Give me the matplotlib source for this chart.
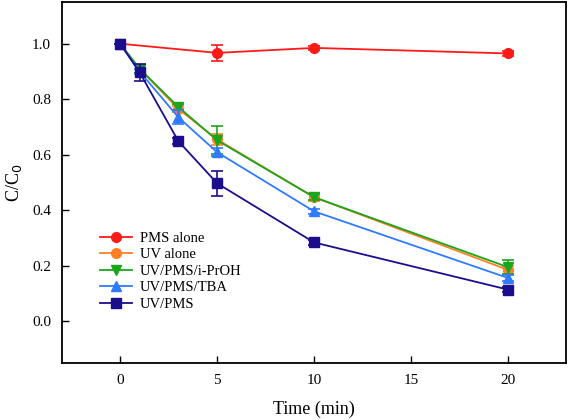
import matplotlib.pyplot as plt
import numpy as np

plt.rcParams['font.family'] = ['Liberation Serif', 'DejaVu Serif']

time = [0, 1, 3, 5, 10, 20]
time_pms = [0, 5, 10, 20]

pms_alone = [1.0, 0.967, 0.985, 0.965]
pms_alone_err = [0.0, 0.028, 0.008, 0.01]

uv_alone = [1.0, 0.91, 0.765, 0.655, 0.447, 0.185]
uv_alone_err = [0.0, 0.015, 0.012, 0.02, 0.015, 0.015]

uv_pms_iproh = [1.0, 0.91, 0.772, 0.652, 0.447, 0.195]
uv_pms_iproh_err = [0.0, 0.015, 0.01, 0.05, 0.01, 0.025]

uv_pms_tba = [1.0, 0.90, 0.735, 0.609, 0.396, 0.156]
uv_pms_tba_err = [0.0, 0.01, 0.025, 0.015, 0.01, 0.01]

uv_pms = [1.0, 0.897, 0.649, 0.497, 0.284, 0.114]
uv_pms_err = [0.0, 0.03, 0.01, 0.045, 0.01, 0.01]

fig = plt.figure(figsize=(5.69, 4.20), dpi=100)
ax = fig.add_axes([0.109, 0.136, 0.886, 0.859])

def plotseries(x, y, err, color, marker, label, ms=7):
    '''plot one series, error bars kept out of the legend'''
    ax.errorbar(x, y, yerr=err, color=color, fmt='none',
                elinewidth=1.2, capsize=4, capthick=1.2)
    ax.plot(x, y, color=color, marker=marker, markersize=ms,
            linewidth=1.3, label=label)

plotseries(time_pms, pms_alone, pms_alone_err, '#ff1a1a', 'o', 'PMS alone')
plotseries(time, uv_alone, uv_alone_err, '#ff7f27', 'o', 'UV alone')
plotseries(time, uv_pms_iproh, uv_pms_iproh_err, '#1aa61a', 'v', 'UV/PMS/i-PrOH')
plotseries(time, uv_pms_tba, uv_pms_tba_err, '#2f7bff', '^', 'UV/PMS/TBA')
plotseries(time, uv_pms, uv_pms_err, '#1c0d8c', 's', 'UV/PMS', ms=6.5)

ax.set_xlim(-3, 23)
ax.set_ylim(-0.15, 1.15)
ax.set_xticks([0, 5, 10, 15, 20])
ax.set_yticks([0.0, 0.2, 0.4, 0.6, 0.8, 1.0])
ax.set_yticklabels(['0.0', '0.2', '0.4', '0.6', '0.8', '1.0'])
ax.tick_params(direction='in', length=5, width=1, labelsize=11, pad=8)
for s in ax.spines.values():
    s.set_linewidth(1.3)

ax.set_xlabel('Time (min)', fontsize=13, labelpad=10)
ax.set_ylabel('C/C$_0$', fontsize=13, labelpad=6)

fig.legend(loc='upper left', bbox_to_anchor=(0.175, 0.449), frameon=False,
           fontsize=10.5, handlelength=2.2, handletextpad=0.55, labelspacing=0.23,
           borderaxespad=0, borderpad=0)

fig.savefig('out.png', dpi=100)
